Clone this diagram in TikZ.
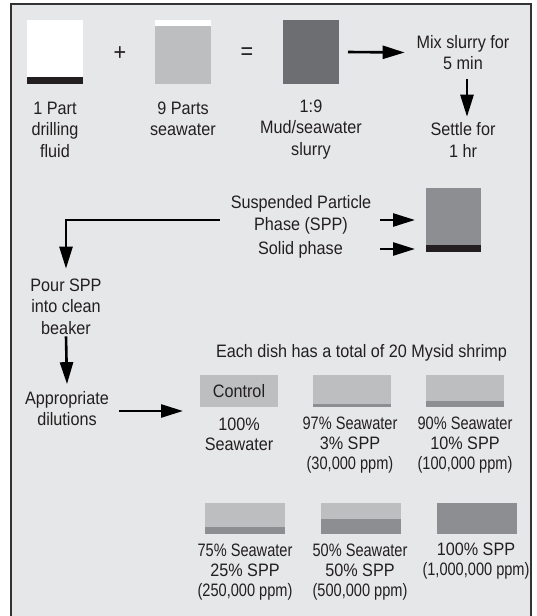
\documentclass[tikz,border=0pt]{standalone}
\usepackage{graphicx}
\usepackage{fontspec}
\setmainfont[FakeStretch=0.9]{Liberation Sans}
\usetikzlibrary{arrows.meta,calc}
\definecolor{bg}{HTML}{E6E7E8}
\definecolor{light}{HTML}{BCBEC0}
\definecolor{mid}{HTML}{8C8E91}
\definecolor{dark}{HTML}{6D6E71}
\definecolor{band}{HTML}{231F20}
\definecolor{txt}{HTML}{231F20}
\definecolor{framec}{HTML}{333333}
\newcommand{\narrowline}[1]{\scalebox{0.9}[1]{#1}}
\begin{document}
\begin{tikzpicture}[x=1pt,y=-1pt,
  lbl/.style={font=\fontsize{18}{21.5}\selectfont, align=center, inner sep=0pt, outer sep=0pt, text=txt},
  lbls/.style={font=\fontsize{18}{20}\selectfont, align=center, inner sep=0pt, outer sep=0pt, text=txt},
  sym/.style={font=\fontsize{24}{24}\selectfont, inner sep=0pt, outer sep=0pt, text=txt},
  arr/.style={-{Triangle[length=22pt,width=13pt]}, line width=2.6pt, draw=black},
  box/.style={rectangle, inner sep=0pt, outer sep=0pt, draw=none}]
\useasboundingbox (0,0) rectangle (536,616);
\fill[white] (0,0) rectangle (536,616);
\draw[line width=1.5pt, draw=framec, fill=bg] (11,4) rectangle (531,625);

% ---- row 1
\node[box, fill=white, minimum width=56pt, minimum height=64pt] (fluidbox) at (55,52) {};
\fill[band] (fluidbox.south west) rectangle ($(fluidbox.south east)+(0,-7)$);
\node[box, fill=light, minimum width=56pt, minimum height=64pt] (seabox) at (183,52) {};
\fill[white] (seabox.north west) rectangle ($(seabox.north east)+(0,6)$);
\node[box, fill=dark, minimum width=56pt, minimum height=64pt] (slurrybox) at (311,52) {};

\node[sym] (plus) at (120,54) {+};
\node[sym] (eq) at (247,54) {=};

\node[lbl] (fluidlbl) at (55,129.5) {1 Part\\drilling\\fluid};
\node[lbl] (sealbl) at (183,119) {9 Parts\\seawater};
\node[lbl] (slurrylbl) at (311,129.5) {1:9\\Mud/seawater\\slurry};

\node[lbl] (mix) at (463,52.5) {Mix slurry for\\5 min};
\node[lbl] (settle) at (463,140) {Settle for\\1 hr};

\draw[arr] ($(slurrybox.east)+(9,0)$) -- ($(mix.west)+(-12,0)$);
\draw[arr] ($(mix.south)+(4,9)$) -- ($(settle.north)+(4,-6)$);

% ---- row 2
\node[box, fill=mid, minimum width=55pt, minimum height=64pt] (beaker) at (453.5,220) {};
\fill[band] (beaker.south west) rectangle ($(beaker.south east)+(0,-7)$);

\node[lbl] (spp) at (301,215) {Suspended Particle\\Phase (SPP)};
\node[lbl] (solid) at (300.5,250) {Solid phase};
\node[lbl] (pour) at (66,306.5) {Pour SPP\\into clean\\beaker};

\draw[arr] ($(spp.west)+(-11,5)$) -| ($(pour.north)+(0,-10)$);
\draw[arr] ($(spp.east)+(9,5)$) -- ($(spp.east -| beaker.west)+(-11,5)$);
\draw[arr] ($(spp.east |- solid.east)+(9,-1)$) -- ($(solid.east -| beaker.west)+(-11,-1)$);

% ---- row 3
\node[lbl] (each) at (361.5,353) {Each dish has a total of 20 Mysid shrimp};
\node[lbl] (appr) at (67,408.5) {Appropriate\\dilutions};
\draw[arr] ($(pour.south)+(0,2)$) -- ($(appr.north)+(0,-7)$);

\node[box, fill=light, minimum width=78pt, minimum height=32pt] (control) at (239,391) {};
\node[lbl] (controltxt) at (control) {Control};
\node[box, fill=light, minimum width=78pt, minimum height=32pt] (d97) at (352,391) {};
\fill[mid] (d97.south west) rectangle ($(d97.south east)+(0,-3)$);
\node[box, fill=light, minimum width=78pt, minimum height=32pt] (d90) at (465,391) {};
\fill[mid] (d90.south west) rectangle ($(d90.south east)+(0,-6)$);

\draw[arr] ($(appr.east)+(10,2.5)$) -- ($(appr.east -| control.west)+(-17,2.5)$);

\node[lbls] (l100sw) at (239,434.5) {100\%\\Seawater};
\node[lbls] (l97) at (350,445) {\narrowline{97\% Seawater}\\3\% SPP\\\narrowline{(30,000 ppm)}};
\node[lbls] (l90) at (465,445) {\narrowline{90\% Seawater}\\10\% SPP\\\narrowline{(100,000 ppm)}};

% ---- row 4
\node[box, fill=light, minimum width=80pt, minimum height=31pt] (d75) at (245,518.5) {};
\fill[mid] (d75.south west) rectangle ($(d75.south east)+(0,-7)$);
\node[box, fill=light, minimum width=80pt, minimum height=31pt] (d50) at (361,518.5) {};
\fill[mid] (d50.south west) rectangle ($(d50.south east)+(0,-15)$);
\node[box, fill=mid, minimum width=80pt, minimum height=31pt] (d100) at (477,518.5) {};

\node[lbls] (l75) at (245,572) {\narrowline{75\% Seawater}\\25\% SPP\\\narrowline{(250,000 ppm)}};
\node[lbls] (l50) at (360,572) {\narrowline{50\% Seawater}\\50\% SPP\\\narrowline{(500,000 ppm)}};
\node[lbls] (l100spp) at (476,561.5) {100\% SPP\\\narrowline{(1,000,000 ppm)}};
\end{tikzpicture}
\end{document}
